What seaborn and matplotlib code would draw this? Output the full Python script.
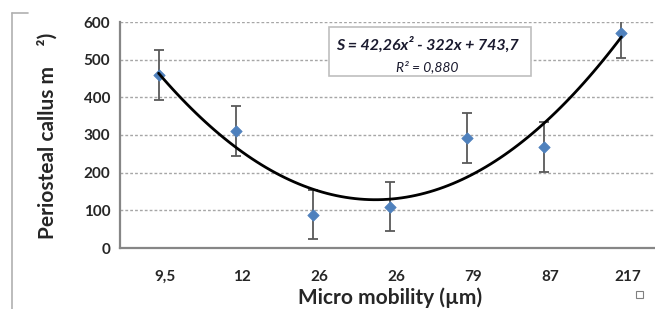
import numpy as np
import pandas as pd
import seaborn as sns
import matplotlib.pyplot as plt
from matplotlib.lines import Line2D
from matplotlib.patches import Rectangle
from matplotlib.transforms import ScaledTranslation

# Values
mobility_labels = ["9,5", "12", "26", "26", "79", "87", "217"]
callus_mean = [460, 310, 88, 110, 292, 268, 570]
callus_err = [66, 66, 65, 66, 66, 66, 66]
y_ticks = [0, 100, 200, 300, 400, 500, 600]

MARKER_BLUE = "#4F81BD"
AXIS_GREY = "#868686"
GRID_GREY = "#a6a6a6"


def build_frame():
    df = pd.DataFrame({
        "pos": np.arange(1, len(mobility_labels) + 1),
        "label": mobility_labels,
        "callus": callus_mean,
        "err": callus_err,
    })
    return df


def plot_callus(df):
    sns.set_style("white")
    plt.rcParams["font.family"] = ["Lato", "DejaVu Sans"]

    fig = plt.figure(figsize=(6.55, 3.09), dpi=100)
    # plot area runs past the right edge, as in the cropped original
    ax = fig.add_axes([120 / 655, 61 / 309, 540 / 655, 226 / 309])

    ax.errorbar(df["pos"], df["callus"], yerr=df["err"], fmt="none",
                ecolor="#595959", elinewidth=1.3, capsize=3.5, capthick=1.3, zorder=3)
    sns.scatterplot(data=df, x="pos", y="callus", marker="D", s=34,
                    color=MARKER_BLUE, edgecolor=MARKER_BLUE, linewidth=0.5, ax=ax, zorder=4)
    # second order trendline fitted by seaborn
    sns.regplot(data=df, x="pos", y="callus", order=2, ci=None, scatter=False,
                truncate=True, line_kws=dict(color="black", lw=2.0, zorder=5), ax=ax)

    ax.set_xlim(0.5, 7.5)
    ax.set_ylim(0, 600)
    ax.set_yticks(y_ticks)
    ax.set_xticks(df["pos"])
    ax.set_xticklabels(df["label"])
    ax.set_xticks(np.arange(1.5, 7.5, 1.0), minor=True)

    for t in y_ticks[1:]:
        ax.axhline(t, color=GRID_GREY, lw=1.0, ls=(0, (2, 1.5)), zorder=1)

    for side in ["top", "right"]:
        ax.spines[side].set_visible(False)
    for side in ["left", "bottom"]:
        ax.spines[side].set_color(AXIS_GREY)
        ax.spines[side].set_linewidth(1.6)

    ax.tick_params(axis="x", which="major", length=0, pad=16, labelsize=11)
    ax.tick_params(axis="x", which="minor", direction="in", length=4, width=1.2, color=AXIS_GREY)
    ax.tick_params(axis="y", direction="in", length=8, width=1.2, color=AXIS_GREY, pad=7, labelsize=11)
    shift = ScaledTranslation(6 / 100, 0, fig.dpi_scale_trans)
    for lab in ax.get_xticklabels():
        lab.set_fontweight("bold")
        lab.set_transform(lab.get_transform() + shift)
    for lab in ax.get_yticklabels():
        lab.set_fontweight("bold")

    ax.set_xlabel("")
    ax.set_ylabel("")

    fig.text(390 / 655, 1 - 304 / 309, "Micro mobility (µm)", ha="center", va="baseline",
             fontsize=15, fontweight="bold")
    fig.text(47 / 655, 1 - 136 / 309, "Periosteal callus m    ²)", rotation=90,
             ha="center", va="center", fontsize=15, fontweight="bold")

    # equation box
    fig.patches.append(Rectangle((329 / 655, 1 - 76 / 309), 202 / 655, 49 / 309,
                                 transform=fig.transFigure, facecolor="white",
                                 edgecolor="#bfbfbf", lw=1.2, zorder=6))
    fig.text(427 / 655, 1 - 45 / 309, "S = 42,26x² - 322x + 743,7", ha="center", va="center",
             fontsize=11.5, fontweight="bold", style="italic", color="#1a1a2e", zorder=7)
    fig.text(427 / 655, 1 - 67 / 309, "R² = 0,880", ha="center", va="center",
             fontsize=10, style="italic", color="#1a1a2e", zorder=7)

    # bits of the outer chart frame and the small square marker
    fig.add_artist(Line2D([12 / 655, 12 / 655], [0, 1 - 13 / 309], color="#b0b0b0", lw=1.2,
                          transform=fig.transFigure))
    fig.add_artist(Line2D([12 / 655, 28 / 655], [1 - 13 / 309, 1 - 13 / 309], color="#b0b0b0",
                          lw=1.2, transform=fig.transFigure))
    fig.patches.append(Rectangle((636 / 655, 1 - 298 / 309), 7 / 655, 7 / 309,
                                 transform=fig.transFigure, facecolor="white",
                                 edgecolor="#808080", lw=0.8))

    fig.savefig("out.png", dpi=100)


def main():
    df = build_frame()
    plot_callus(df)


if __name__ == "__main__":
    main()
